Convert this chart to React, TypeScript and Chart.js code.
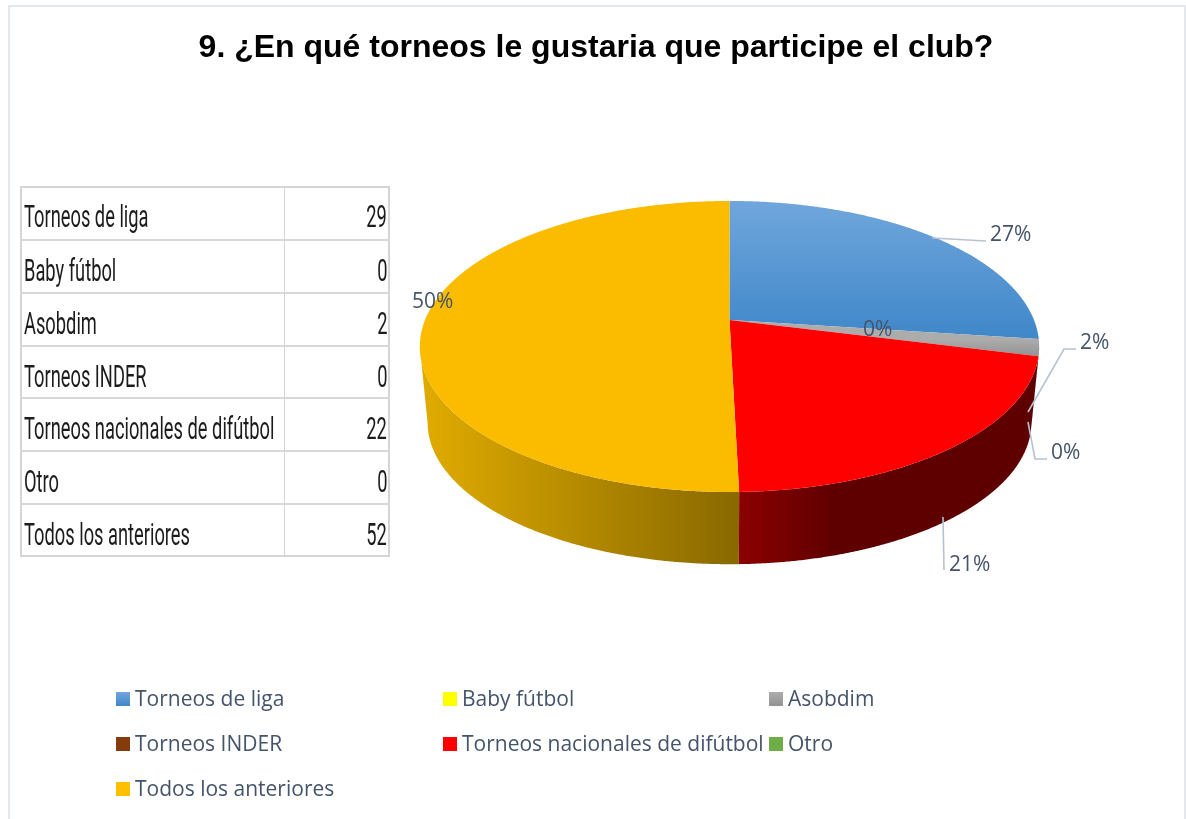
import React, { useEffect, useRef } from "react";
import { Chart, registerables } from "chart.js";

Chart.register(...registerables);

// ---- data ----
const categories = [
  "Torneos de liga",
  "Baby fútbol",
  "Asobdim",
  "Torneos INDER",
  "Torneos nacionales de difútbol",
  "Otro",
  "Todos los anteriores",
];
const responses = [29, 0, 2, 0, 22, 0, 52];
const percentLabels = ["27%", "0%", "2%", "", "21%", "0%", "50%"];
const titleText = "9. ¿En qué torneos le gustaria que participe el club?";

// ---- styles and layout ----
const swatchColors = ["#5B9BD5", "#FFFF00", "#A5A5A5", "#843C0C", "#FF0000", "#70AD47", "#FFC000"];
const faceColors: any[] = [["#70A6DC", "#3F87C9"], "#FFFF00", ["#ACACAC", "#939393"], "#843C0C", "#FF0000", "#70AD47", "#FBBC00"];
const wallColors: any[] = [
  "#2F5F8F", "#999900", "#7A7A7A", "#4F2407",
  [[740, "#8B0000"], [835, "#5F0000"]],
  "#436829",
  [[428, "#DFAA00"], [740, "#886800"]],
];
const legendCols = [116, 443, 769];
const legendRows = [700, 745, 790];
const labelBoxes: any[] = [
  { x: 990, y: 235, line: [[932, 238], [986, 241]] },
  { x: 863, y: 330, line: null },
  { x: 1080, y: 343, line: [[1028, 412], [1064, 349], [1076, 349]] },
  null,
  { x: 949, y: 565, line: [[943, 517], [944, 570]] },
  { x: 1051, y: 453, line: [[1028, 422], [1035, 459], [1047, 459]] },
  { x: 412, y: 302, line: null },
];
const TEXT = "#44546A";
const FONT = '"Open Sans", "Noto Sans", sans-serif';
const APEX_X = 729.5;
const APEX_Y = 320;
const RADIUS_X = 304.5;
const RADIUS_Y = 140.7;
const TILT = 0.182;
const DEPTH_Y = 76.5;
const DEPTH_SCALE = 0.975;
const SKEW = (3.2 * Math.PI) / 180;

function discAngle(angle: number) {
  const theta = angle + Math.PI / 2;
  return theta - (SKEW * (1 - Math.cos(theta))) / 2 - Math.PI / 2;
}

// projects an angle of the pie (Chart.js radians) on the tilted disc
function project(angle: number, bottom: boolean) {
  const t = discAngle(angle);
  const u = Math.cos(t);
  const v = Math.sin(t);
  const d = 1 - TILT * v;
  const s = bottom ? DEPTH_SCALE : 1;
  return {
    x: APEX_X + (s * RADIUS_X * u) / d,
    y: APEX_Y + (bottom ? DEPTH_Y : 0) + (s * RADIUS_Y * v) / d,
  };
}

function sampleAngles(a0: number, a1: number) {
  const n = Math.max(2, Math.ceil(Math.abs(a1 - a0) / 0.005));
  const out: number[] = [];
  for (let i = 0; i <= n; i++) out.push(a0 + ((a1 - a0) * i) / n);
  return out;
}

function paint(ctx: CanvasRenderingContext2D, def: any, y0: number, y1: number) {
  if (typeof def === "string") return def;
  if (typeof def[0] === "string") {
    const g = ctx.createLinearGradient(0, y0, 0, y1);
    g.addColorStop(0, def[0]);
    g.addColorStop(1, def[1]);
    return g;
  }
  const g = ctx.createLinearGradient(def[0][0], 0, def[1][0], 0);
  g.addColorStop(0, def[0][1]);
  g.addColorStop(1, def[1][1]);
  return g;
}

const pie3d = {
  id: "pie3d",
  beforeDatasetsDraw(chart: any) {
    const ctx: CanvasRenderingContext2D = chart.ctx;
    const arcs = chart.getDatasetMeta(0).data;

    // frame
    ctx.save();
    ctx.strokeStyle = "#E4E8EE";
    ctx.lineWidth = 2;
    ctx.beginPath();
    ctx.moveTo(9, 819);
    ctx.lineTo(9, 6);
    ctx.lineTo(1185, 6);
    ctx.lineTo(1185, 819);
    ctx.stroke();

    // walls: only the part of each slice that faces the viewer
    arcs.forEach((arc: any, i: number) => {
      if (arc.endAngle - arc.startAngle <= 0) return;
      const front = sampleAngles(arc.startAngle, arc.endAngle).filter((a) => Math.sin(discAngle(a)) >= TILT);
      if (front.length < 2) return;
      ctx.beginPath();
      front.forEach((a, k) => {
        const p = project(a, false);
        k ? ctx.lineTo(p.x, p.y) : ctx.moveTo(p.x, p.y);
      });
      [...front].reverse().forEach((a) => {
        const p = project(a, true);
        ctx.lineTo(p.x, p.y);
      });
      ctx.closePath();
      ctx.fillStyle = paint(ctx, wallColors[i], 0, 0);
      ctx.fill();
    });

    // top faces
    arcs.forEach((arc: any, i: number) => {
      if (arc.endAngle - arc.startAngle <= 0) return;
      const pts = sampleAngles(arc.startAngle, arc.endAngle).map((a) => project(a, false));
      ctx.beginPath();
      ctx.moveTo(APEX_X, APEX_Y);
      pts.forEach((p) => ctx.lineTo(p.x, p.y));
      ctx.closePath();
      const ys = pts.map((p) => p.y);
      ctx.fillStyle = paint(ctx, faceColors[i], Math.min(...ys), Math.max(...ys));
      ctx.fill();
    });

    // leader lines and labels
    ctx.strokeStyle = "#B6C2D2";
    ctx.lineWidth = 1.6;
    labelBoxes.forEach((box) => {
      if (!box || !box.line) return;
      ctx.beginPath();
      box.line.forEach((p: number[], k: number) => (k ? ctx.lineTo(p[0], p[1]) : ctx.moveTo(p[0], p[1])));
      ctx.stroke();
    });
    ctx.fillStyle = TEXT;
    ctx.font = `21px ${FONT}`;
    ctx.textBaseline = "middle";
    ctx.textAlign = "left";
    labelBoxes.forEach((box, i) => {
      if (box && percentLabels[i]) ctx.fillText(percentLabels[i], box.x, box.y);
    });

    // legend
    categories.forEach((name, i) => {
      const col = legendCols[i % 3];
      const row = legendRows[Math.floor(i / 3)];
      const g = ctx.createLinearGradient(0, row - 8, 0, row + 6);
      const c = faceColors[i];
      if (Array.isArray(c)) {
        g.addColorStop(0, c[0]);
        g.addColorStop(1, c[1]);
      } else {
        g.addColorStop(0, swatchColors[i]);
        g.addColorStop(1, swatchColors[i]);
      }
      ctx.fillStyle = g;
      ctx.fillRect(col, row - 8, 14, 14);
      ctx.fillStyle = TEXT;
      ctx.fillText(name, col + 19, row);
    });
    ctx.restore();
    return false;
  },
};

const TABLE_LINES = [186, 240, 293, 345.5, 398, 451, 503.5, 556.5];

function DataTable() {
  return (
    <div style={{ position: "absolute", left: 20, top: 186, width: 370, height: 371, fontFamily: "Roboto, sans-serif", color: "#1c1c1c" }}>
      <div style={{ position: "absolute", left: 0, top: 0, width: 366, height: 367, border: "2px solid #D5D5D5" }} />
      <div style={{ position: "absolute", left: 264, top: 0, width: 1, height: 371, background: "#D5D5D5" }} />
      {TABLE_LINES.slice(1, -1).map((y) => (
        <div key={y} style={{ position: "absolute", left: 0, top: y - 187, width: 370, height: 2, background: "#D8D8D8" }} />
      ))}
      {categories.map((name, i) => (
        <React.Fragment key={name}>
          <span style={{ position: "absolute", left: 4, top: TABLE_LINES[i] - 186 + 10, fontSize: 31, lineHeight: "42px", whiteSpace: "nowrap", transform: "scaleX(0.59)", transformOrigin: "left center" }}>{name}</span>
          <span style={{ position: "absolute", right: 3, top: TABLE_LINES[i] - 186 + 10, fontSize: 31, lineHeight: "42px", whiteSpace: "nowrap", transform: "scaleX(0.59)", transformOrigin: "right center" }}>{responses[i]}</span>
        </React.Fragment>
      ))}
    </div>
  );
}

export default function App() {
  const ref = useRef<HTMLCanvasElement>(null);
  useEffect(() => {
    document.body.style.margin = "0";
    const chart = new Chart(ref.current!, {
      type: "pie",
      data: { labels: categories, datasets: [{ data: responses, backgroundColor: swatchColors }] },
      options: {
        animation: false,
        responsive: false,
        layout: { padding: { left: 6 } },
        plugins: {
          legend: { display: false },
          tooltip: { enabled: false },
          title: {
            display: true,
            text: titleText,
            color: "#000000",
            font: { family: '"Liberation Sans", Arial, sans-serif', size: 32, weight: "bold" },
            padding: { top: 29, bottom: 10 },
          },
        },
      },
      plugins: [pie3d],
    } as any);
    return () => chart.destroy();
  }, []);
  return (
    <div style={{ position: "absolute", left: 0, top: 0, width: 1186, height: 819, overflow: "hidden", background: "#fff" }}>
      <canvas ref={ref} width={1186} height={819} style={{ position: "absolute", left: 0, top: 0, display: "block" }} />
      <DataTable />
    </div>
  );
}
